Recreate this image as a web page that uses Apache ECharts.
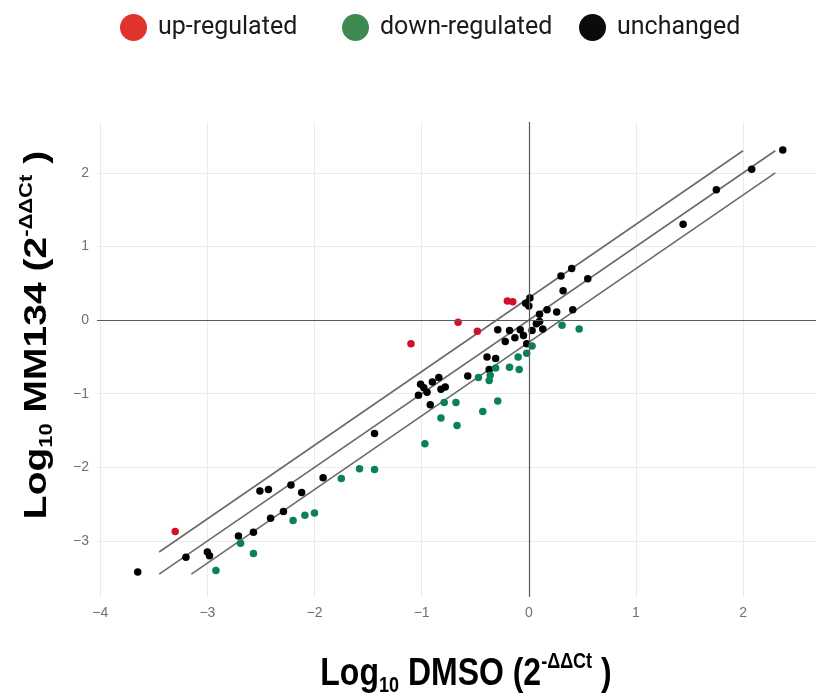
<!DOCTYPE html>
<html>
<head>
<meta charset="utf-8">
<script src="https://cdn.jsdelivr.net/npm/echarts/dist/echarts.min.js"></script>
<style>
  html, body { margin: 0; padding: 0; background: #fff; }
  #main { width: 816px; height: 697px; }
</style>
</head>
<body>
<div id="main"></div>
<script>
// log10 fold change, DMSO (x) vs MM134 (y)
var upX = [-3.30, -1.10, -0.66, -0.48, -0.20, -0.15];
var upY = [-2.87, -0.32, -0.03, -0.15, 0.26, 0.25];

var downX = [-2.92, -2.69, -2.57, -2.20, -2.09, -2.00, -1.75, -1.58, -1.44, -0.97, -0.82, -0.79, -0.68, -0.67,
  -0.47, -0.43, -0.37, -0.36, -0.31, -0.29, -0.18, -0.09, -0.10, -0.02, 0.03, 0.31, 0.47];
var downY = [-3.40, -3.03, -3.17, -2.72, -2.65, -2.62, -2.15, -2.02, -2.03, -1.68, -1.33, -1.12, -1.12, -1.43,
  -0.78, -1.24, -0.82, -0.75, -0.65, -1.10, -0.64, -0.67, -0.50, -0.45, -0.35, -0.07, -0.12];

var unchX = [-3.65, -3.20, -3.00, -2.98, -2.71, -2.57, -2.51, -2.43, -2.41, -2.29, -2.22, -2.12, -1.92, -1.44,
  -1.01, -0.98, -1.03, -0.95, -0.90, -0.84, -0.82, -0.78, -0.92,
  -0.57, -0.39, -0.31, -0.37, -0.29, -0.18, -0.08, -0.13, -0.05, -0.22, -0.02, 0.03, 0.07, 0.10, 0.13, 0.10,
  0.17, 0.26, 0.41, 0.32, 0.30, 0.40, 0.55, 0.01, -0.03, 0.00, 1.44, 1.75, 2.08, 2.37];
var unchY = [-3.42, -3.22, -3.15, -3.20, -2.93, -2.88, -2.32, -2.30, -2.69, -2.60, -2.24, -2.34, -2.14, -1.54,
  -0.87, -0.92, -1.02, -0.98, -0.84, -0.78, -0.94, -0.91, -1.15,
  -0.76, -0.50, -0.52, -0.67, -0.13, -0.14, -0.13, -0.24, -0.21, -0.29, -0.32, -0.14, -0.05, -0.02, -0.12, 0.08,
  0.14, 0.11, 0.14, 0.40, 0.60, 0.70, 0.56, 0.30, 0.23, 0.19, 1.30, 1.77, 2.05, 2.31];

var xTicks = [-4, -3, -2, -1, 0, 1, 2];
var yTicks = [-3, -2, -1, 0, 1, 2];

// diagonal guides: y = x and y = x +/- log10(2)
var fold = Math.log10(2);
var lineLo = -3.45, lineHi = 2.3;

function zip(xs, ys) {
  return xs.map(function (x, i) { return [x, ys[i]]; });
}
function minus(v) { return String(v).replace('-', '\u2212'); }

var chartDom = document.getElementById('main');
var myChart = echarts.init(chartDom);

var legendBase = {
  top: 14,
  padding: 0,
  icon: 'circle',
  itemWidth: 39,
  itemHeight: 27,
  selectedMode: false,
  textStyle: { fontFamily: 'Roboto', fontSize: 25, color: '#1a1a1a' }
};

var titleRich = {
  m: { fontFamily: 'Liberation Sans', fontWeight: 'bold', fontSize: 39, lineHeight: 46, color: '#000' },
  s: { fontFamily: 'Liberation Sans', fontWeight: 'bold', fontSize: 22, verticalAlign: 'bottom', color: '#000' },
  p: { fontFamily: 'Liberation Sans', fontWeight: 'bold', fontSize: 22, verticalAlign: 'top', color: '#000' }
};

var option = {
  animation: false,
  backgroundColor: '#fff',
  legend: [
    Object.assign({}, legendBase, { left: 120, data: ['up-regulated'], itemStyle: { color: '#e0332b' } }),
    Object.assign({}, legendBase, { left: 342, data: ['down-regulated'], itemStyle: { color: '#3f8a50' } }),
    Object.assign({}, legendBase, { left: 579, data: ['unchanged'], itemStyle: { color: '#0b0b0b' } })
  ],
  grid: { left: 97, right: 0, top: 122, bottom: 100 },
  xAxis: {
    type: 'value',
    min: -4.03,
    max: 2.68,
    axisLine: { show: false },
    axisTick: { show: false, customValues: xTicks },
    axisLabel: { customValues: xTicks, formatter: minus, color: '#707070', fontSize: 14, margin: 9, fontFamily: 'Liberation Sans' },
    splitLine: { show: true, lineStyle: { color: '#ebebeb', width: 1 } }
  },
  yAxis: {
    type: 'value',
    min: -3.76,
    max: 2.69,
    axisLine: { show: false },
    axisTick: { show: false, customValues: yTicks },
    axisLabel: { customValues: yTicks, formatter: minus, color: '#707070', fontSize: 14, margin: 8, fontFamily: 'Liberation Sans' },
    splitLine: { show: true, lineStyle: { color: '#ebebeb', width: 1 } }
  },
  graphic: [
    {
      type: 'text',
      x: 466,
      y: 674,
      scaleX: 0.82,
      style: {
        text: '{m|Log}{s|10}{m| DMSO (2}{p|-\u0394\u0394Ct}{m| )}',
        rich: titleRich,
        align: 'center',
        verticalAlign: 'middle'
      }
    },
    {
      type: 'text',
      x: 37,
      y: 335,
      rotation: Math.PI / 2,
      scaleY: 0.82,
      style: {
        text: '{m|Log}{s|10}{m| MM134 (2}{p|-\u0394\u0394Ct}{m| )}',
        rich: titleRich,
        align: 'center',
        verticalAlign: 'middle'
      }
    }
  ],
  series: [
    {
      name: 'identity',
      type: 'line',
      silent: true,
      z: 1,
      symbol: 'none',
      data: [[lineLo, lineLo], [lineHi, lineHi]],
      lineStyle: { color: '#6a6a6a', width: 1.6 },
      markLine: {
        silent: true,
        symbol: ['none', 'none'],
        label: { show: false },
        lineStyle: { color: '#5a5a5a', width: 1.2, type: 'solid' },
        data: [{ xAxis: 0 }, { yAxis: 0 }]
      }
    },
    {
      name: 'fold-up',
      type: 'line',
      silent: true,
      z: 1,
      symbol: 'none',
      data: [[lineLo, lineLo + fold], [lineHi - fold, lineHi]],
      lineStyle: { color: '#6a6a6a', width: 1.6 }
    },
    {
      name: 'fold-down',
      type: 'line',
      silent: true,
      z: 1,
      symbol: 'none',
      data: [[lineLo + fold, lineLo], [lineHi, lineHi - fold]],
      lineStyle: { color: '#6a6a6a', width: 1.6 }
    },
    {
      name: 'unchanged',
      type: 'scatter',
      z: 3,
      symbolSize: 7.5,
      itemStyle: { color: '#000', opacity: 1 },
      data: zip(unchX, unchY)
    },
    {
      name: 'down-regulated',
      type: 'scatter',
      z: 3,
      symbolSize: 7.5,
      itemStyle: { color: '#0b8158', opacity: 1 },
      data: zip(downX, downY)
    },
    {
      name: 'up-regulated',
      type: 'scatter',
      z: 3,
      symbolSize: 7.5,
      itemStyle: { color: '#d0112b', opacity: 1 },
      data: zip(upX, upY)
    }
  ]
};

option && myChart.setOption(option);
</script>
</body>
</html>
